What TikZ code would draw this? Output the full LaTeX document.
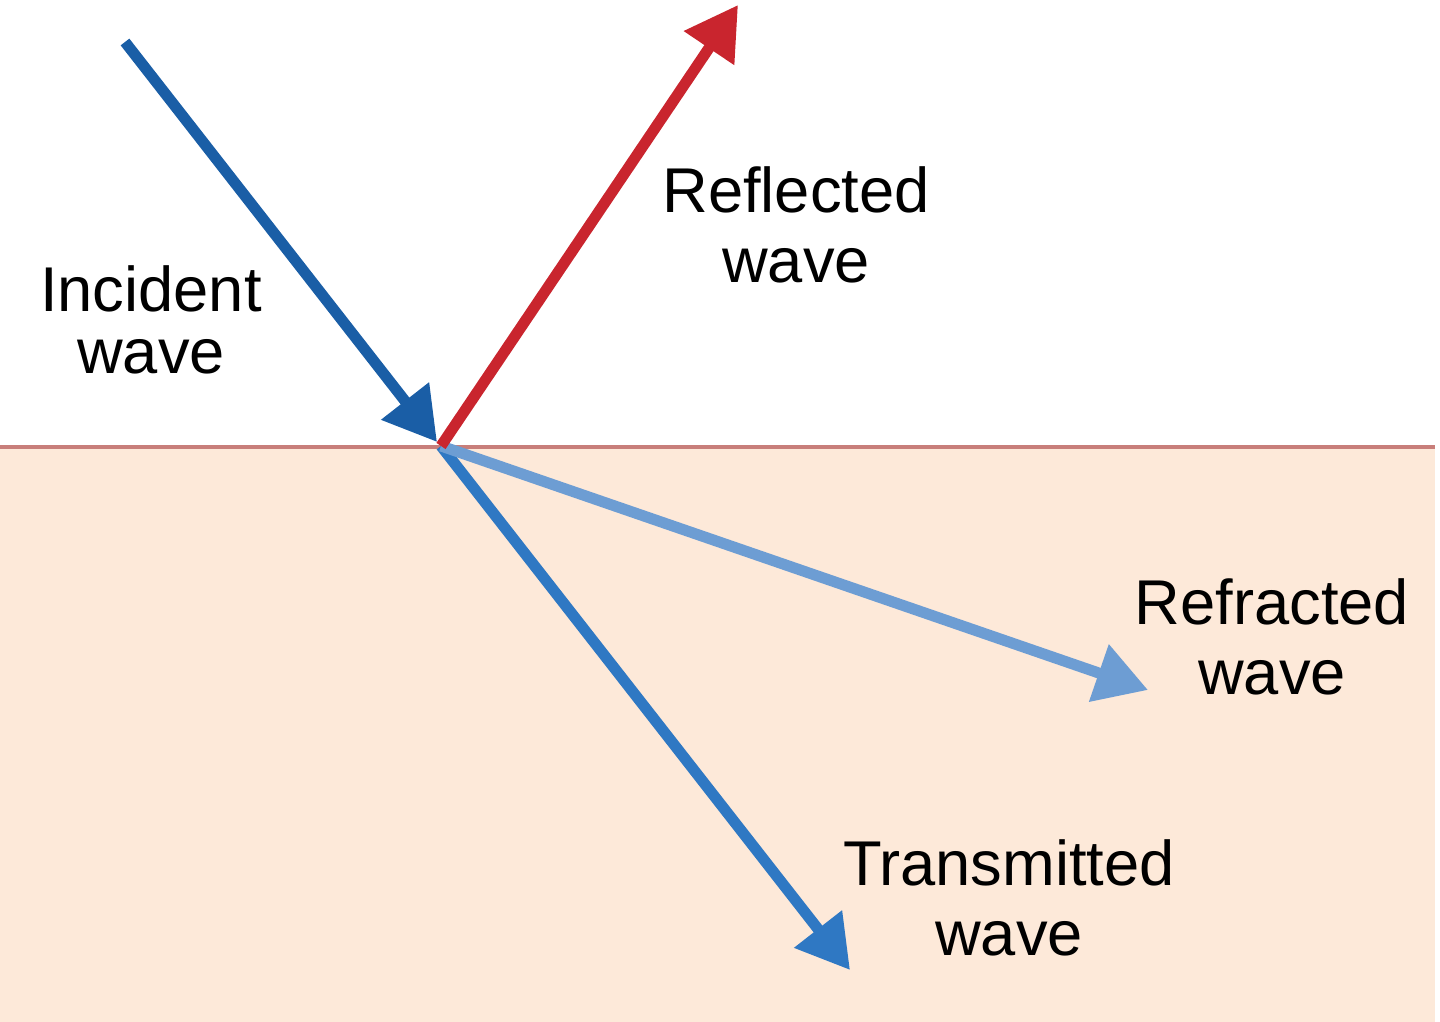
\documentclass[tikz,border=0pt]{standalone}
\usepackage{fontspec}
\setmainfont{Liberation Sans}
\usepackage{tikz}
\usetikzlibrary{arrows.meta, positioning}

\definecolor{incidentblue}{HTML}{1A5EA6}
\definecolor{reflectred}{HTML}{C9252E}
\definecolor{refractblue}{HTML}{6D9DD3}
\definecolor{transblue}{HTML}{2F78C3}
\definecolor{mediumfill}{HTML}{FDE9D9}
\definecolor{boundary}{HTML}{C87E7A}

\begin{document}
\begin{tikzpicture}[>={Triangle[length=0.52cm, width=0.58cm]}]
        % Styles
        \tikzstyle{label} = [align=center, inner sep=0pt, font=\fontsize{18}{20}\selectfont]
        \tikzstyle{wave} = [->, line width=0.11cm]

        \useasboundingbox (0,0) rectangle (14.40,10.22);

        % Medium
        \fill[mediumfill] (0,0) rectangle (14.35,5.75);
        \coordinate (left) at (0,5.75);
        \coordinate (right) at (14.35,5.75);
        \draw[boundary, line width=1.4pt] (left) -- (right);

        % Points
        \coordinate (hit) at (4.41,5.76);
        \coordinate (source) at (1.25,9.80);
        \coordinate (incidenttip) at (4.37,5.80);
        \coordinate (reflecttip) at (7.38,10.17);
        \coordinate (refracttip) at (11.48,3.32);
        \coordinate (transtip) at (8.50,0.52);

        % Nodes
        \node[label, font=\fontsize{18}{17.5}\selectfont] (incident) at (1.51,7.02) {Incident\\wave};
        \node[label] (reflected) at (7.96,7.97) {Reflected\\wave};
        \node[label] (refracted) at (12.72,3.85) {Refracted\\wave};
        \node[label] (transmitted) at (10.09,1.24) {Transmitted\\wave};

        % Paths
        \draw[wave, transblue] (hit) -- (transtip);
        \draw[wave, refractblue] (hit) -- (refracttip);
        \draw[wave, reflectred] (hit) -- (reflecttip);
        \draw[wave, incidentblue] (source) -- (incidenttip);
    \end{tikzpicture}
\end{document}
